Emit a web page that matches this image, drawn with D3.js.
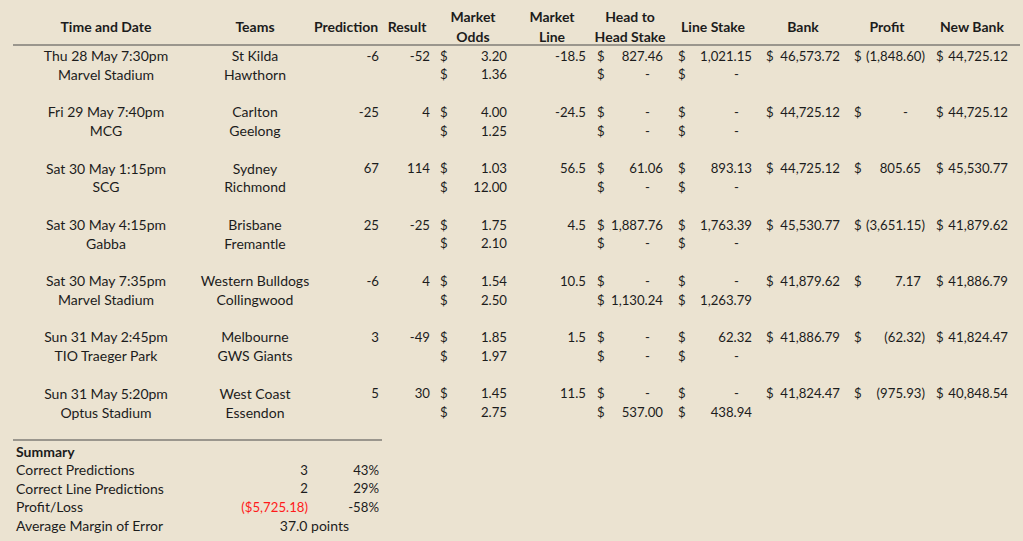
<!DOCTYPE html>
<html>
<head>
<meta charset="utf-8">
<script src="https://cdn.jsdelivr.net/npm/d3@7"></script>
<style>
  body { margin: 0; background: #ebe3d1; }
  svg { display: block; }
  text { font-family: Lato, "Open Sans", sans-serif; font-size: 14px; fill: #1c1c1c; }
  text.num { font-size: 13.2px; }
  .hdr { font-weight: bold; }
</style>
</head>
<body>
<div id="chart"></div>
<script>
/* DATA */
const dates = ["Thu 28 May 7:30pm", "Fri 29 May 7:40pm", "Sat 30 May 1:15pm", "Sat 30 May 4:15pm",
  "Sat 30 May 7:35pm", "Sun 31 May 2:45pm", "Sun 31 May 5:20pm"];
const venues = ["Marvel Stadium", "MCG", "SCG", "Gabba", "Marvel Stadium", "TIO Traeger Park", "Optus Stadium"];
const homeTeams = ["St Kilda", "Carlton", "Sydney", "Brisbane", "Western Bulldogs", "Melbourne", "West Coast"];
const awayTeams = ["Hawthorn", "Geelong", "Richmond", "Fremantle", "Collingwood", "GWS Giants", "Essendon"];
const predictions = [-6, -25, 67, 25, -6, 3, 5];
const results = [-52, 4, 114, -25, 4, -49, 30];
const homeOdds = [3.20, 4.00, 1.03, 1.75, 1.54, 1.85, 1.45];
const awayOdds = [1.36, 1.25, 12.00, 2.10, 2.50, 1.97, 2.75];
const marketLines = [-18.5, -24.5, 56.5, 4.5, 10.5, 1.5, 11.5];
const h2hHome = [827.46, 0, 61.06, 1887.76, 0, 0, 0];
const h2hAway = [0, 0, 0, 0, 1130.24, 0, 537.00];
const lineHome = [1021.15, 0, 893.13, 1763.39, 0, 62.32, 0];
const lineAway = [0, 0, 0, 0, 1263.79, 0, 438.94];
const bank = [46573.72, 44725.12, 44725.12, 45530.77, 41879.62, 41886.79, 41824.47];
const profit = [-1848.60, 0, 805.65, -3651.15, 7.17, -62.32, -975.93];
const newBank = [44725.12, 44725.12, 45530.77, 41879.62, 41886.79, 41824.47, 40848.54];

const headers = [["Time and Date"], ["Teams"], ["Prediction"], ["Result"], ["Market", "Odds"],
  ["Market", "Line"], ["Head to", "Head Stake"], ["Line Stake"], ["Bank"], ["Profit"], ["New Bank"]];

const summaryLabels = ["Correct Predictions", "Correct Line Predictions", "Profit/Loss", "Average Margin of Error"];
const summaryCounts = ["3", "2", "($5,725.18)", "37.0 points"];
const summaryPcts = ["43%", "29%", "-58%", ""];

/* LAYOUT */
const width = 1023, height = 541;
const headerX = [106, 255, 346, 407, 473, 552, 630, 713, 803, 887, 972];

const svg = d3.select("#chart").append("svg")
  .attr("width", width)
  .attr("height", height);

// game index -> first line y, line within game -> offset
const yGame = d3.scaleLinear().domain([0, 6]).range([56, 393.8]);
const yLine = d3.scaleLinear().domain([0, 1]).range([0, 18.8]);
const y = (g, l) => yGame(g) + yLine(l);

const money = d3.format(",.2f");
// accounting style: positives get a trailing pad, negatives in brackets, zero as dash
function acct(v) {
  if (v === 0) return { t: "-", dash: true };
  if (v < 0) return { t: "(" + money(-v) + ")", neg: true };
  return { t: money(v) };
}

/* HEADER */
const hdr = svg.append("g");
headers.forEach((lines, i) => {
  const t = hdr.append("text")
    .attr("class", "hdr")
    .attr("text-anchor", "middle")
    .attr("x", headerX[i]);
  if (lines.length === 1) {
    t.attr("y", 27).attr("dy", "0.35em").text(lines[0]);
  } else {
    t.append("tspan").attr("x", headerX[i]).attr("y", 17).attr("dy", "0.35em").text(lines[0]);
    t.append("tspan").attr("x", headerX[i]).attr("y", 37).attr("dy", "0.35em").text(lines[1]);
  }
});

svg.append("line")
  .attr("x1", 13).attr("x2", 1020)
  .attr("y1", 45).attr("y2", 45)
  .attr("stroke", "#4a4a4a").attr("stroke-width", 1.2);

/* ROWS */
const body = svg.append("g");

function cell(x, yy, txt, anchor, cls) {
  return body.append("text")
    .attr("class", cls || null)
    .attr("x", x).attr("y", yy).attr("dy", "0.35em")
    .attr("text-anchor", anchor || "start")
    .text(txt);
}

// "$" at left, value right aligned
function acctCell(dollarX, rightX, yy, v) {
  cell(dollarX, yy, "$", "start", "num");
  const a = acct(v);
  if (a.dash) cell(rightX - 15.5, yy, "-", "middle", "num");
  else if (a.neg) cell(rightX + 4, yy, a.t, "end", "num");
  else cell(rightX, yy, a.t, "end", "num");
}

dates.forEach((d, g) => {
  cell(106, y(g, 0), d, "middle");
  cell(106, y(g, 1), venues[g], "middle");
  cell(255, y(g, 0), homeTeams[g], "middle");
  cell(255, y(g, 1), awayTeams[g], "middle");
  cell(379, y(g, 0), predictions[g], "end", "num");
  cell(430, y(g, 0), results[g], "end", "num");

  cell(440, y(g, 0), "$", "start", "num");
  cell(507, y(g, 0), homeOdds[g].toFixed(2), "end", "num");
  cell(440, y(g, 1), "$", "start", "num");
  cell(507, y(g, 1), awayOdds[g].toFixed(2), "end", "num");

  cell(586, y(g, 0), marketLines[g], "end", "num");

  acctCell(597, 663, y(g, 0), h2hHome[g]);
  acctCell(597, 663, y(g, 1), h2hAway[g]);
  acctCell(678, 752, y(g, 0), lineHome[g]);
  acctCell(678, 752, y(g, 1), lineAway[g]);
  acctCell(766, 840, y(g, 0), bank[g]);
  acctCell(854, 921, y(g, 0), profit[g]);
  acctCell(936, 1008, y(g, 0), newBank[g]);
});

/* SUMMARY */
svg.append("line")
  .attr("x1", 13).attr("x2", 382)
  .attr("y1", 440).attr("y2", 440)
  .attr("stroke", "#4a4a4a").attr("stroke-width", 1.2);

const ySum = d3.scaleLinear().domain([0, 3]).range([470, 526]);

body.append("text")
  .attr("class", "hdr")
  .attr("x", 16).attr("y", 452).attr("dy", "0.35em")
  .text("Summary");

summaryLabels.forEach((lab, i) => {
  cell(16, ySum(i), lab);
  if (i < 3) {
    cell(308, ySum(i), summaryCounts[i], "end", "num")
      .style("fill", i === 2 ? "#ff1a1a" : null);
    cell(379, ySum(i), summaryPcts[i], "end", "num");
  } else {
    cell(349, ySum(i), summaryCounts[i], "end");
  }
});
</script>
</body>
</html>
